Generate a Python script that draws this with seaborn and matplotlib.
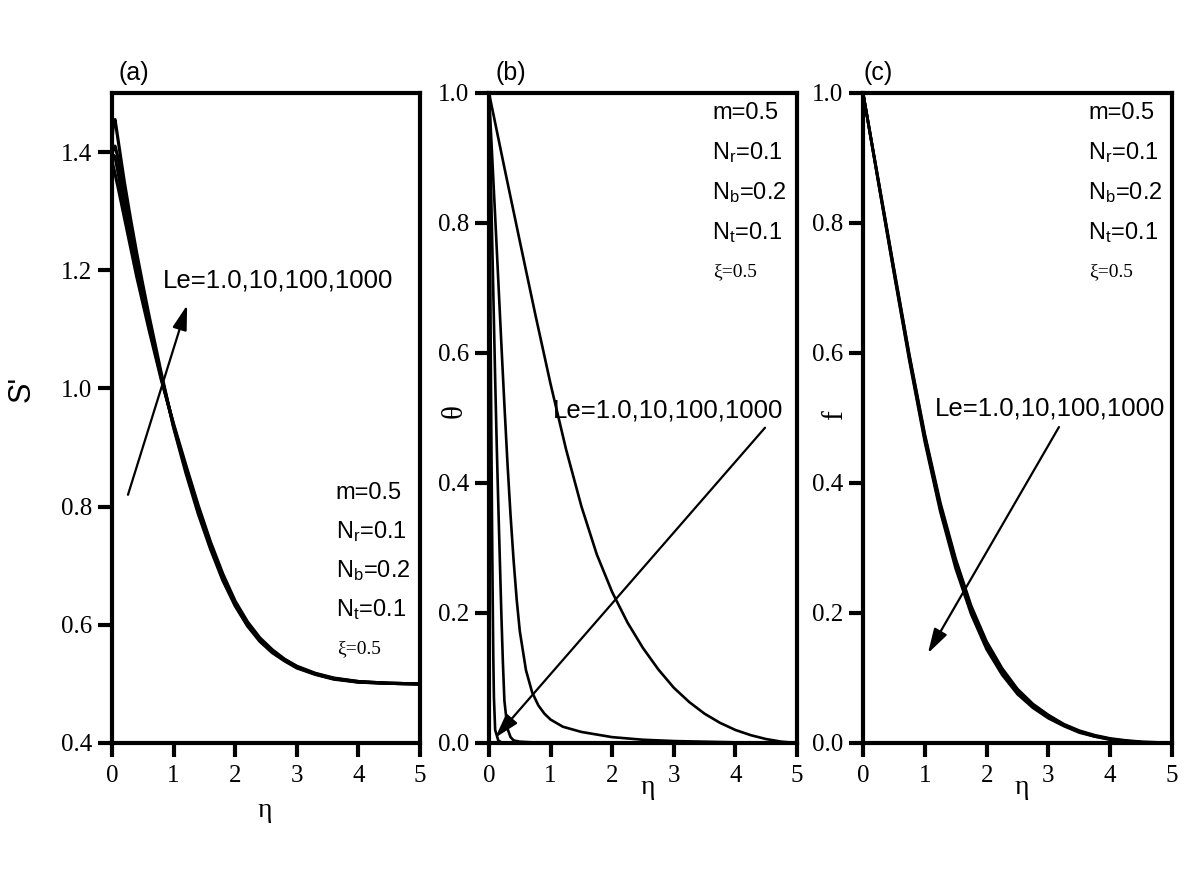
import numpy as np
import pandas as pd
import matplotlib
matplotlib.use('Agg')
import matplotlib.pyplot as plt
import seaborn as sns

sns.set_theme(style='ticks')
plt.rcParams['font.family'] = ['Liberation Serif', 'DejaVu Serif']
plt.rcParams['mathtext.fontset'] = 'custom'
plt.rcParams['mathtext.rm'] = 'Liberation Sans'
plt.rcParams['mathtext.it'] = 'Liberation Sans:italic'
plt.rcParams['mathtext.default'] = 'rm'
plt.rcParams['text.color'] = 'black'
plt.rcParams['axes.labelcolor'] = 'black'

le_values = ['1.0', '10', '100', '1000']

# (a) S' profiles
eta_a = [0, 0.02, 0.05, 0.1, 0.2, 0.3, 0.4, 0.5, 0.6, 0.8, 1.0, 1.2, 1.4, 1.6,
         1.8, 2.0, 2.2, 2.4, 2.6, 2.8, 3.0, 3.3, 3.6, 4.0, 4.5, 5.0]
s_le1 = [1.385, 1.376, 1.363, 1.340, 1.290, 1.240, 1.190, 1.145, 1.100, 1.015, 0.940, 0.870, 0.802,
         0.740, 0.686, 0.640, 0.605, 0.578, 0.558, 0.542, 0.530, 0.518, 0.510, 0.504, 0.501, 0.500]
s_le10 = [1.390, 1.395, 1.392, 1.365, 1.305, 1.253, 1.200, 1.152, 1.106, 1.018, 0.938, 0.866, 0.798,
          0.736, 0.682, 0.637, 0.602, 0.576, 0.556, 0.541, 0.529, 0.517, 0.509, 0.504, 0.501, 0.500]
s_le100 = [1.395, 1.405, 1.410, 1.390, 1.325, 1.268, 1.212, 1.160, 1.112, 1.021, 0.936, 0.862, 0.793,
           0.732, 0.678, 0.634, 0.600, 0.574, 0.555, 0.540, 0.528, 0.517, 0.509, 0.503, 0.501, 0.500]
s_le1000 = [1.420, 1.445, 1.455, 1.420, 1.350, 1.288, 1.230, 1.176, 1.124, 1.026, 0.934, 0.857, 0.788,
            0.728, 0.675, 0.632, 0.598, 0.572, 0.553, 0.539, 0.527, 0.516, 0.508, 0.503, 0.501, 0.500]

# (b) theta profiles
eta_b1 = [0, 0.25, 0.5, 0.75, 1.0, 1.25, 1.5, 1.75, 2.0, 2.25, 2.5, 2.75, 3.0,
          3.25, 3.5, 3.75, 4.0, 4.25, 4.5, 4.75, 5.0]
th_le1 = [1.0, 0.885, 0.772, 0.660, 0.552, 0.452, 0.364, 0.290, 0.232, 0.185, 0.146, 0.113, 0.085,
          0.063, 0.045, 0.031, 0.020, 0.012, 0.006, 0.002, 0.0]
eta_b2 = [0, 0.05, 0.1, 0.15, 0.2, 0.25, 0.3, 0.35, 0.4, 0.45, 0.5, 0.6, 0.7, 0.8, 0.9, 1.0,
          1.2, 1.5, 2.0, 2.5, 3.0, 4.0, 5.0]
th_le10 = [1.0, 0.905, 0.81, 0.713, 0.615, 0.52, 0.43, 0.35, 0.28, 0.22, 0.172, 0.112, 0.078, 0.058,
           0.045, 0.036, 0.025, 0.017, 0.009, 0.005, 0.003, 0.001, 0.0]
eta_b3 = [0, 0.025, 0.05, 0.075, 0.1, 0.125, 0.15, 0.175, 0.2, 0.225, 0.25, 0.3, 0.35, 0.4,
          0.5, 0.7, 1.0, 2.0, 5.0]
th_le100 = [1.0, 0.89, 0.78, 0.67, 0.56, 0.46, 0.37, 0.285, 0.2, 0.125, 0.065, 0.022, 0.009, 0.004,
            0.002, 0.001, 0.0, 0.0, 0.0]
eta_b4 = [0, 0.01, 0.02, 0.03, 0.04, 0.05, 0.06, 0.07, 0.08, 0.1, 0.15, 0.2, 0.5, 1.0, 5.0]
th_le1000 = [1.0, 0.86, 0.72, 0.58, 0.45, 0.33, 0.22, 0.13, 0.07, 0.02, 0.004, 0.001, 0.0, 0.0, 0.0]

# (c) f profiles
eta_c = [0, 0.25, 0.5, 0.75, 1.0, 1.25, 1.5, 1.75, 2.0, 2.25, 2.5, 2.75, 3.0, 3.25,
         3.5, 3.75, 4.0, 4.25, 4.5, 5.0]
f_le1 = [1.0, 0.865, 0.730, 0.597, 0.475, 0.370, 0.283, 0.211, 0.156, 0.115, 0.083, 0.060, 0.043,
         0.029, 0.019, 0.012, 0.007, 0.004, 0.002, 0.0]
f_le10 = [1.0, 0.864, 0.728, 0.595, 0.472, 0.366, 0.279, 0.208, 0.153, 0.112, 0.081, 0.058, 0.042,
          0.028, 0.018, 0.011, 0.006, 0.003, 0.001, 0.0]
f_le100 = [1.0, 0.862, 0.725, 0.591, 0.467, 0.360, 0.273, 0.202, 0.148, 0.108, 0.078, 0.056, 0.040,
           0.027, 0.017, 0.010, 0.006, 0.003, 0.001, 0.0]
f_le1000 = [1.0, 0.861, 0.723, 0.588, 0.463, 0.356, 0.268, 0.198, 0.144, 0.105, 0.075, 0.054, 0.038,
            0.026, 0.016, 0.010, 0.005, 0.003, 0.001, 0.0]

param_lines = ['m=0.5', 'N$_r$=0.1', 'N$_b$=0.2', 'N$_t$=0.1']
le_label = 'Le=' + ','.join(le_values)

fig = plt.figure(figsize=(12, 8.82), dpi=100)
ax_a = fig.add_axes([0.0933, 0.1576, 0.2567, 0.737])
ax_b = fig.add_axes([0.4075, 0.1576, 0.2567, 0.737])
ax_c = fig.add_axes([0.7192, 0.1576, 0.2575, 0.737])


def style_axis(ax, ylim, yticks):
    ax.set_xlim(0, 5)
    ax.set_ylim(*ylim)
    ax.set_xticks(range(6))
    ax.set_yticks(yticks)
    ax.set_yticklabels([f'{v:.1f}' for v in yticks])
    for sp in ax.spines.values():
        sp.set_visible(True)
        sp.set_linewidth(3)
        sp.set_color('black')
    ax.tick_params(direction='out', length=10, width=3, labelsize=18, colors='black')
    ax.tick_params(axis='x', pad=6)
    ax.tick_params(axis='y', pad=4)
    ax.grid(False)


def param_block(ax, x, y0, dy):
    for i, t in enumerate(param_lines):
        ax.text(x, y0 - i * dy, t, transform=ax.transAxes, fontsize=17,
                family='Liberation Sans', va='center', ha='left')
    ax.text(x + 0.003, y0 - 4 * dy, 'ξ=0.5', transform=ax.transAxes, fontsize=14,
            family='Liberation Serif', va='center', ha='left')


arrow_kw = dict(arrowstyle='-|>,head_length=0.75,head_width=0.22', color='black', lw=1.6,
                mutation_scale=20, shrinkA=0, shrinkB=0)

# ---- panel (a)
for ys in [s_le1, s_le10, s_le100, s_le1000]:
    sns.lineplot(x=eta_a, y=ys, ax=ax_a, color='black', lw=2.3, estimator=None, sort=False)
style_axis(ax_a, (0.4, 1.5), [0.4, 0.6, 0.8, 1.0, 1.2, 1.4])
ax_a.set_ylabel("S'", family='Liberation Sans', fontsize=22)
ax_a.yaxis.set_label_coords(-0.245, 0.545)
ax_a.set_xlabel('η', fontsize=20)
ax_a.xaxis.set_label_coords(0.497, -0.085)
ax_a.text(0.02, 1.031, '(a)', transform=ax_a.transAxes, fontsize=18,
          family='Liberation Sans', va='center', ha='left')
ax_a.text(0.165, 0.712, le_label, transform=ax_a.transAxes, fontsize=18.5,
          family='Liberation Sans', va='center', ha='left')
ax_a.annotate('', xy=(1.22, 1.141), xytext=(0.26, 0.82), arrowprops=arrow_kw)
param_block(ax_a, 0.727, 0.385, 0.06)

# ---- panel (b)
sns.lineplot(x=eta_b1, y=th_le1, ax=ax_b, color='black', lw=1.9, estimator=None, sort=False)
sns.lineplot(x=eta_b2, y=th_le10, ax=ax_b, color='black', lw=1.9, estimator=None, sort=False)
sns.lineplot(x=eta_b3, y=th_le100, ax=ax_b, color='black', lw=1.9, estimator=None, sort=False)
sns.lineplot(x=eta_b4, y=th_le1000, ax=ax_b, color='black', lw=1.9, estimator=None, sort=False)
style_axis(ax_b, (0.0, 1.0), [0.0, 0.2, 0.4, 0.6, 0.8, 1.0])
ax_b.set_ylabel('θ', fontsize=21)
ax_b.yaxis.set_label_coords(-0.068, 0.51)
ax_b.set_xlabel('η', fontsize=20)
ax_b.xaxis.set_label_coords(0.516, -0.05)
ax_b.text(0.02, 1.031, '(b)', transform=ax_b.transAxes, fontsize=18,
          family='Liberation Sans', va='center', ha='left')
ax_b.text(0.208, 0.512, le_label, transform=ax_b.transAxes, fontsize=18.5,
          family='Liberation Sans', va='center', ha='left')
ax_b.annotate('', xy=(0.1, 0.008), xytext=(4.48, 0.485), arrowprops=arrow_kw)
param_block(ax_b, 0.724, 0.969, 0.061)

# ---- panel (c)
for ys in [f_le1, f_le10, f_le100, f_le1000]:
    sns.lineplot(x=eta_c, y=ys, ax=ax_c, color='black', lw=2.0, estimator=None, sort=False)
style_axis(ax_c, (0.0, 1.0), [0.0, 0.2, 0.4, 0.6, 0.8, 1.0])
ax_c.set_ylabel('f', fontsize=21)
ax_c.yaxis.set_label_coords(-0.05, 0.505)
ax_c.set_xlabel('η', fontsize=20)
ax_c.xaxis.set_label_coords(0.515, -0.05)
ax_c.text(0.0, 1.031, '(c)', transform=ax_c.transAxes, fontsize=18,
          family='Liberation Sans', va='center', ha='left')
ax_c.text(0.233, 0.515, le_label, transform=ax_c.transAxes, fontsize=18.5,
          family='Liberation Sans', va='center', ha='left')
ax_c.annotate('', xy=(1.05, 0.138), xytext=(3.17, 0.486), arrowprops=arrow_kw)
param_block(ax_c, 0.728, 0.969, 0.061)

fig.savefig('out.png', dpi=100, facecolor='white')
plt.close(fig)
